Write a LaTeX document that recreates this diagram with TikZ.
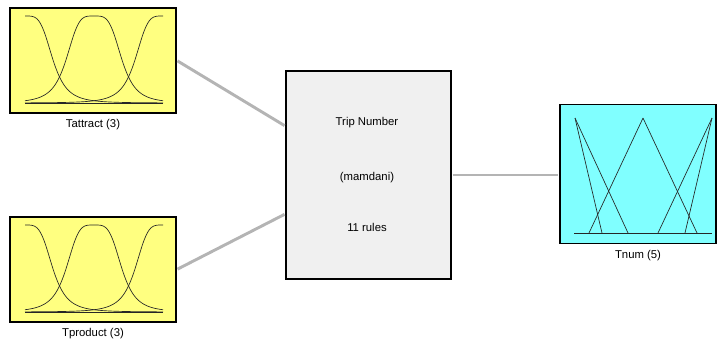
\documentclass[tikz,border=0pt]{standalone}
\usepackage{fontspec}
\setmainfont{Liberation Sans}
\usetikzlibrary{positioning}
\definecolor{inyellow}{RGB}{255,255,128}
\definecolor{outcyan}{RGB}{128,255,255}
\definecolor{fisgray}{RGB}{240,240,240}
\definecolor{wiregray}{RGB}{180,180,180}
\tikzset{
  varbox/.style={draw=black, line width=1.2pt, inner sep=0pt, minimum width=124.5pt, minimum height=78.75pt},
  mf/.style={line width=0.5pt, black!85},
  wire/.style={wiregray, line width=2.2pt, shorten <=0.6pt, shorten >=0.6pt},
  lbl/.style={font=\fontsize{8.5}{10}\selectfont, inner sep=1pt},
}
\begin{document}
\begin{tikzpicture}[x=0.75pt,y=-0.75pt]
\useasboundingbox (0,0) rectangle (717,340);
\node[varbox, fill=inyellow] (attract) at (93,60.5) {};
\node[varbox, fill=inyellow] (product) at (93,269.5) {};
\node[varbox, fill=fisgray, minimum width=123.75pt, minimum height=156pt] (rule) at (368.5,175) {};
\node[varbox, fill=outcyan, minimum width=117pt, minimum height=104.25pt] (num) at (638,174) {};

\node[lbl, below=3pt of attract] (attractlbl) {Tattract (3)};
\node[lbl, below=3pt of product] (productlbl) {Tproduct (3)};
\node[lbl, below=3pt of num] (numlbl) {Tnum (5)};
\node[lbl] (rulename) at (367,123) {Trip Number};
\node[lbl] (ruletype) at (367,178) {(mamdani)};
\node[lbl] (rulecount) at (367,227) {11 rules};

\draw[wire] (attract.east) -- ([yshift=36.75pt]rule.west);
\draw[wire] (product.east) -- ([yshift=-29.25pt]rule.west);
\draw[wire] (rule.east) -- (rule.east -| num.west);

% input membership functions
\foreach \o in {0,209}
{
    \draw[mf] (25,\o+103) -- (163,\o+103);
    \foreach \c in {25,94,163}
        \draw[mf, domain=25:163, samples=90, smooth]
            plot (\x, {\o+103-87/(1+pow(abs((\x-\c)/27.9),4))});
}
% output membership functions
\draw[mf] (574,233) -- (712,233);
\foreach \p/\f in {575/602, 575/628, 643/589, 643/697, 712/685, 712/658}
    \draw[mf] (\p,118) -- (\f,233);
\end{tikzpicture}
\end{document}
